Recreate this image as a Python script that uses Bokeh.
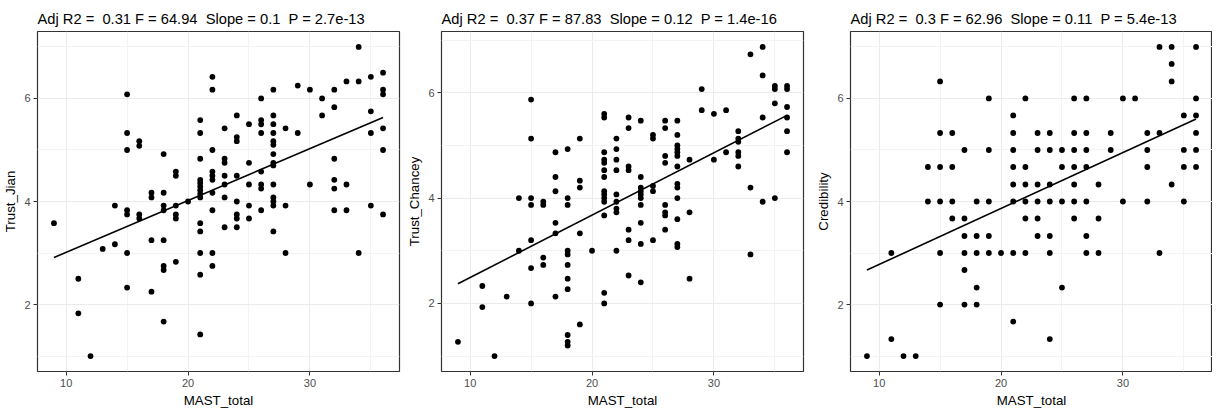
import numpy as np
from bokeh.plotting import figure
from bokeh.layouts import row
from bokeh.models import FixedTicker, Range1d
from bokeh.embed import file_html
from bokeh.resources import INLINE

# ---------------- data ----------------
# MAST_total -> list of scores at that MAST_total value
trust_jian = {
    9: [3.58], 11: [2.5, 1.83], 12: [1.0], 13: [3.08], 14: [3.92, 3.17],
    15: [6.08, 5.33, 5.0, 3.83, 3.75, 3.0, 2.33],
    16: [5.17, 5.08, 3.75, 3.67],
    17: [4.17, 4.08, 3.25, 2.25],
    18: [4.92, 4.17, 3.92, 3.83, 3.25, 2.75, 2.67, 1.67],
    19: [4.58, 4.5, 3.92, 3.75, 3.67, 2.83],
    20: [4.0],
    21: [5.58, 5.33, 4.83, 4.42, 4.36, 4.29, 4.22, 4.15, 4.08, 3.58, 3.42, 3.0, 2.58, 1.42],
    22: [6.42, 6.17, 5.0, 4.58, 4.5, 4.42, 4.17, 3.83, 3.0, 2.75],
    23: [5.42, 4.83, 4.75, 4.5, 4.33, 4.08, 3.5],
    24: [5.67, 5.25, 5.17, 4.5, 4.0, 3.75, 3.67, 3.5],
    25: [5.5, 4.75, 4.33, 3.92, 3.67],
    26: [6.0, 5.58, 5.5, 5.33, 4.58, 4.33, 4.25, 3.83],
    27: [6.17, 5.67, 5.5, 5.33, 5.17, 5.1, 4.92, 4.75, 4.7, 4.33, 4.08, 4.0, 3.92, 3.42],
    28: [5.42, 3.92, 3.0], 29: [6.25, 5.33], 30: [6.17, 4.33], 31: [6.0, 5.67],
    32: [6.17, 5.83, 4.83, 4.42, 4.25, 3.83],
    33: [6.33, 4.33, 3.83], 34: [7.0, 6.33, 3.0],
    35: [6.42, 5.75, 5.33, 3.92],
    36: [6.5, 6.17, 6.08, 5.42, 5.0, 3.75],
}
trust_chancey = {
    9: [1.27], 11: [2.33, 1.93], 12: [1.0], 13: [2.13], 14: [4.0, 3.0],
    15: [5.87, 5.13, 4.0, 3.87, 3.2, 2.67, 2.0],
    16: [3.93, 3.87, 2.87, 2.73],
    17: [4.87, 4.4, 4.13, 3.53, 3.33, 2.13],
    18: [4.93, 4.0, 3.87, 3.0, 2.93, 2.73, 2.47, 2.27, 1.4, 1.27, 1.2],
    19: [5.13, 4.33, 4.2, 3.33, 1.6],
    20: [3.0],
    21: [5.6, 5.53, 4.87, 4.73, 4.67, 4.53, 4.4, 4.13, 4.07, 4.0, 3.93, 3.67, 2.2, 2.0],
    22: [5.13, 4.93, 4.73, 4.53, 4.07, 3.93, 3.8, 3.73, 3.0],
    23: [5.53, 5.33, 4.6, 4.53, 3.4, 3.2, 2.53],
    24: [5.47, 4.4, 4.2, 4.13, 4.07, 4.0, 3.87, 3.53, 3.13, 2.4],
    25: [5.2, 5.13, 4.23, 4.13, 3.2],
    26: [5.47, 5.33, 4.8, 4.67, 3.87, 3.73, 3.67, 3.4],
    27: [5.47, 5.2, 5.0, 4.93, 4.87, 4.8, 4.6, 4.27, 4.2, 4.0, 3.6, 3.13, 3.07],
    28: [4.73, 3.73, 2.47], 29: [6.07, 5.67], 30: [5.6, 4.73], 31: [5.67, 4.87],
    32: [5.27, 5.13, 5.07, 4.87, 4.8, 4.6],
    33: [6.73, 4.2, 2.93], 34: [6.87, 6.33, 5.53, 3.93],
    35: [6.13, 6.07, 5.8, 4.0],
    36: [6.13, 6.07, 5.73, 5.53, 5.27, 4.87],
}
credibility = {
    9: [1.0], 11: [3.0, 1.33], 12: [1.0], 13: [1.0], 14: [4.67, 4.0],
    15: [6.33, 5.33, 4.67, 4.0, 3.0, 2.0],
    16: [5.33, 4.67, 4.0, 3.67],
    17: [5.0, 3.67, 3.33, 3.0, 2.67, 2.0],
    18: [4.0, 3.33, 3.0, 2.33, 2.0],
    19: [6.0, 5.0, 4.0, 3.33, 3.0],
    20: [3.0],
    21: [5.67, 5.33, 5.0, 4.67, 4.33, 4.0, 3.0, 1.67],
    22: [6.0, 4.67, 4.33, 4.0, 3.67, 3.0],
    23: [5.33, 5.0, 4.33, 4.0, 3.67, 3.33],
    24: [5.33, 5.0, 4.33, 4.0, 3.33, 3.0, 1.33],
    25: [5.0, 4.67, 4.0, 2.33],
    26: [6.0, 5.33, 5.0, 4.67, 4.33, 4.0, 3.67],
    27: [6.0, 5.33, 5.0, 4.67, 4.0, 3.33, 3.0],
    28: [4.33, 3.67, 3.0], 29: [5.33, 5.0], 30: [6.0, 4.0], 31: [6.0],
    32: [5.33, 5.0, 4.67, 4.0],
    33: [7.0, 5.33, 3.0], 34: [7.0, 6.67, 6.33, 4.33],
    35: [5.67, 5.0, 4.67, 4.0],
    36: [7.0, 6.0, 5.67, 5.33, 5.0, 4.67],
}

y_names = ["Trust_Jian", "Trust_Chancey", "Credibility"]
NB = "\u00a0"
titles = [
    f"Adj R2 ={NB} 0.31 F = 64.94 {NB}Slope = 0.1 {NB}P = 2.7e-13",
    f"Adj R2 ={NB} 0.37 F = 87.83 {NB}Slope = 0.12 {NB}P = 1.4e-16",
    f"Adj R2 ={NB} 0.3 F = 62.96 {NB}Slope = 0.11 {NB}P = 5.4e-13",
]
fit_intercepts = [2.006, 1.308, 1.692]
fit_slopes = [0.1007, 0.1184, 0.1086]
x_ticks = [10, 20, 30]
x_minor = [15, 25, 35]
y_ticks = [2, 4, 6]
y_minor = [1, 3, 5, 7]

FONT = "Liberation Sans"


def flatten(d):
    xs, ys = [], []
    for k, vals in d.items():
        for v in vals:
            xs.append(k)
            ys.append(v)
    return np.array(xs, float), np.array(ys, float)


def expand(lo, hi, f=0.05):
    r = hi - lo
    return lo - f * r, hi + f * r


datasets = [trust_jian, trust_chancey, credibility]
borders = [(29, 4), (38, 6), (41, 0)]
figs = []
for i, d in enumerate(datasets):
    xs, ys = flatten(d)
    x0, x1 = expand(xs.min(), xs.max())
    y0, y1 = expand(ys.min(), ys.max())
    bl, br = borders[i]
    p = figure(frame_width=362, frame_height=340,
               x_range=Range1d(x0, x1), y_range=Range1d(y0, y1),
               output_backend="svg", toolbar_location=None,
               min_border_left=bl, min_border_right=br,
               min_border_top=31, min_border_bottom=0,
               title=titles[i])
    p.background_fill_color = "white"
    p.border_fill_color = "white"
    p.outline_line_color = "#333333"
    p.outline_line_width = 1.2

    p.title.text_font = FONT
    p.title.text_font_size = "14.7px"
    p.title.text_font_style = "normal"
    p.title.text_color = "black"
    p.title.align = "left"
    p.title.offset = 0
    p.title.standoff = 9

    p.xaxis.ticker = FixedTicker(ticks=x_ticks, minor_ticks=x_minor)
    p.yaxis.ticker = FixedTicker(ticks=y_ticks, minor_ticks=y_minor)
    p.xaxis.axis_label = "MAST_total"
    p.yaxis.axis_label = y_names[i]
    for ax in (p.xaxis[0], p.yaxis[0]):
        ax.axis_line_color = None
        ax.major_tick_line_color = "#333333"
        ax.major_tick_out = 4
        ax.major_tick_in = 0
        ax.minor_tick_line_color = None
        ax.major_label_text_font = FONT
        ax.major_label_text_font_size = "11px"
        ax.major_label_text_color = "#4D4D4D"
        ax.major_label_standoff = 3
        ax.axis_label_text_font = FONT
        ax.axis_label_text_font_size = "13.3px"
        ax.axis_label_text_font_style = "normal"
        ax.axis_label_text_color = "black"
        ax.axis_label_standoff = 3
    for g in (p.xgrid[0], p.ygrid[0]):
        g.grid_line_color = "#EBEBEB"
        g.grid_line_width = 1
        g.minor_grid_line_color = "#F3F3F3"
        g.minor_grid_line_width = 1

    p.scatter(xs, ys, size=5.8, fill_color="black", line_color=None)
    lx = np.array([xs.min(), xs.max()])
    p.line(lx, fit_intercepts[i] + fit_slopes[i] * lx, line_width=1.6, color="black")
    figs.append(p)

layout = row(*figs, spacing=0)
open("out.html", "w").write(file_html(layout, INLINE))
